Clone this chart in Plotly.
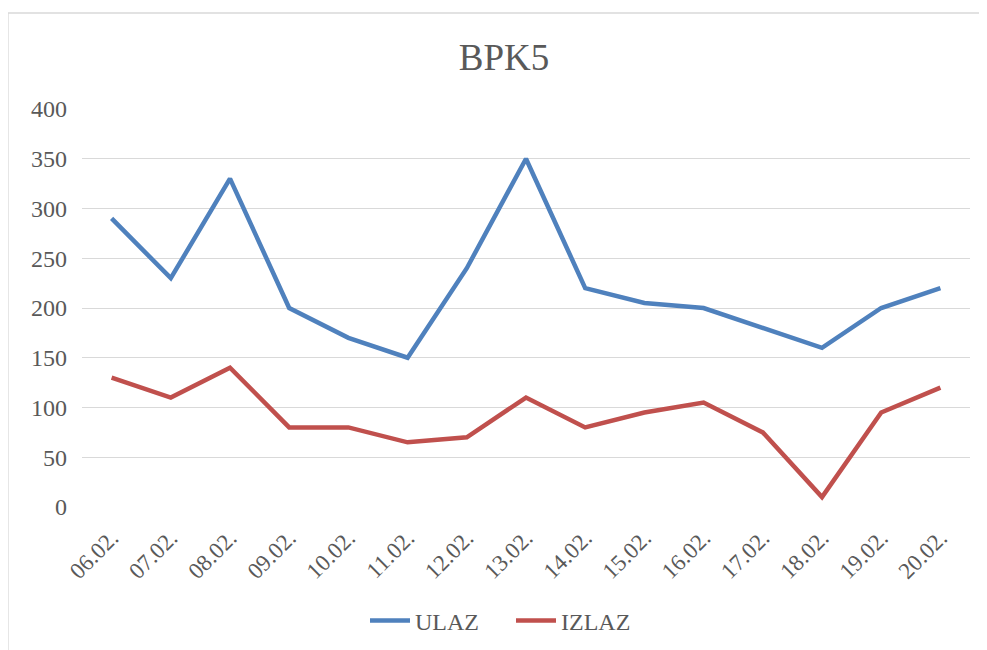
import plotly.graph_objects as go

dates = ["06.02.", "07.02.", "08.02.", "09.02.", "10.02.", "11.02.", "12.02.", "13.02.",
         "14.02.", "15.02.", "16.02.", "17.02.", "18.02.", "19.02.", "20.02."]
ulaz = [290, 230, 330, 200, 170, 150, 240, 350, 220, 205, 200, 180, 160, 200, 220]
izlaz = [130, 110, 140, 80, 80, 65, 70, 110, 80, 95, 105, 75, 10, 95, 120]
y_ticks = [0, 50, 100, 150, 200, 250, 300, 350, 400]

OFF = 8  # page body margin
W, H = 987 - OFF, 650 - OFF
L, T = 82 - OFF, 109 - OFF
pw, ph = 888, 398
R = W - L - pw
B = H - T - ph

def px_x(x):  # page pixel -> paper
    return (x - OFF - L) / pw

def px_y(y):
    return (T + ph - (y - OFF)) / ph

font = "Liberation Serif, Times New Roman, serif"
grey = "#595959"

fig = go.Figure()
fig.add_trace(go.Scatter(x=dates, y=ulaz, mode="lines", name="ULAZ",
                         line=dict(color="#4F81BD", width=4.5)))
fig.add_trace(go.Scatter(x=dates, y=izlaz, mode="lines", name="IZLAZ",
                         line=dict(color="#C0504D", width=4.5)))

# chart border
bc = "#d9d9d9"
for (x0, y0, x1, y1) in [(8, 13, 986.5, 13), (8, 13, 8, 660), (986.5, 13, 986.5, 660)]:
    fig.add_shape(type="line", xref="paper", yref="paper",
                  x0=px_x(x0), y0=px_y(y0), x1=px_x(x1), y1=px_y(y1),
                  line=dict(color=bc, width=1.3))

fig.update_layout(
    width=W, height=H,
    margin=dict(l=L, r=R, t=T, b=B, autoexpand=False),
    paper_bgcolor="white", plot_bgcolor="white",
    font=dict(family=font, color=grey, size=24),
    title=dict(text="BPK5", x=(504 - OFF) / W, xanchor="center",
               y=1 - (57 - OFF) / H, yanchor="middle",
               xref="container", yref="container",
               font=dict(family=font, size=37, color=grey)),
    showlegend=True,
    legend=dict(orientation="h", x=px_x(365), xanchor="left", y=px_y(621), yanchor="middle",
                font=dict(family=font, size=24, color=grey), itemwidth=40,
                entrywidth=91, entrywidthmode="pixels",
                traceorder="normal"),
    xaxis=dict(type="category", range=[-0.5, len(dates) - 0.5], tickangle=-45,
               showgrid=False, zeroline=False, showline=False, ticks="",
               automargin=False, ticklabelstandoff=12,
               tickfont=dict(family=font, size=23, color=grey)),
    yaxis=dict(range=[0, 400], tickvals=y_ticks, showgrid=True, gridcolor="#d9d9d9",
               gridwidth=1.3, zeroline=False, showline=False, ticks="",
               ticklabelstandoff=14, automargin=False,
               tickfont=dict(family=font, size=24, color=grey)),
)

fig.write_html("out.html")
